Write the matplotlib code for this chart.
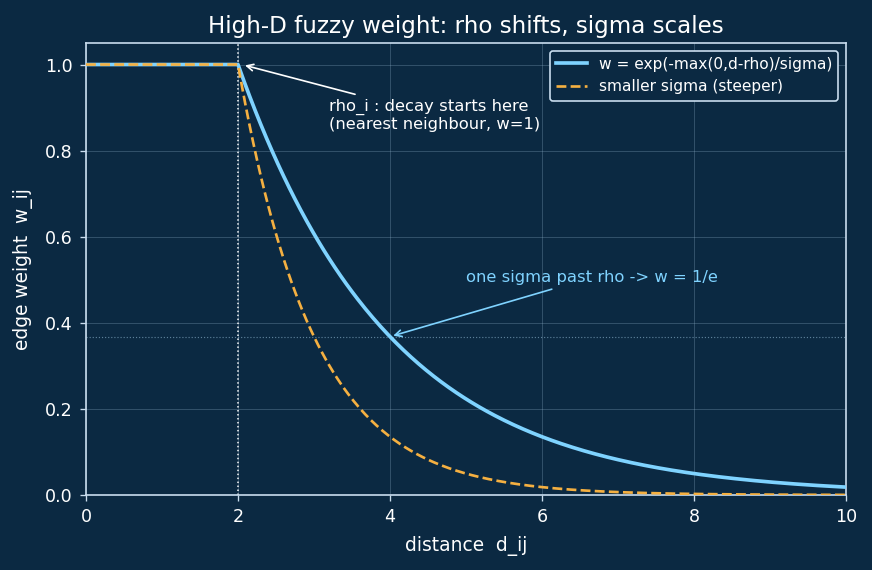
import numpy as np
import matplotlib
matplotlib.use("Agg")
import matplotlib.pyplot as plt

# parameters
rho = 2.0
sigma = 2.0
sigma_small = 1.0
d = np.linspace(0, 10, 401)
w_main = np.exp(-np.maximum(0, d - rho) / sigma)
w_small = np.exp(-np.maximum(0, d - rho) / sigma_small)

labels = ["w = exp(-max(0,d-rho)/sigma)", "smaller sigma (steeper)"]
xticks = [0, 2, 4, 6, 8, 10]
yticks = [0.0, 0.2, 0.4, 0.6, 0.8, 1.0]

bg = "#0b2942"
fg = "#c9ddee"

DPI = 120
fig = plt.figure(figsize=(872 / DPI, 570 / DPI), dpi=DPI, facecolor=bg)
ax = fig.add_axes([86/872, 1 - 495/570, 760/872, 452/570])
ax.set_facecolor(bg)

ax.plot(d, w_main, color="#7fd3ff", lw=2.2, label=labels[0], zorder=3)
ax.plot(d, w_small, color="#f5b041", lw=1.6, ls="--", label=labels[1], zorder=3)

ax.axvline(rho, color="white", lw=0.9, ls=":", zorder=2)
ax.axhline(np.exp(-1), color="#7fa6c0", lw=0.7, ls=":", alpha=0.7, zorder=2)

ax.set_xlim(0, 10)
ax.set_ylim(0, 1.05)
ax.set_xticks(xticks)
ax.set_yticks(yticks)
ax.grid(True, color="#8fb0c8", alpha=0.35, lw=0.5)

for s in ax.spines.values():
    s.set_color(fg)
    s.set_linewidth(1.0)
ax.tick_params(colors=fg, labelsize=10.5, pad=4.5)
for lab in ax.get_xticklabels() + ax.get_yticklabels():
    lab.set_color("white")

ax.set_xlabel("distance  d_ij", color="white", fontsize=11.2, labelpad=6)
ax.set_ylabel("edge weight  w_ij", color="white", fontsize=11.2, labelpad=7)
ax.set_title("High-D fuzzy weight: rho shifts, sigma scales", color="white", fontsize=13.8)

ax.annotate("rho_i : decay starts here\n(nearest neighbour, w=1)",
            xy=(rho + 0.05, 1.0), xytext=(3.2, 0.85),
            color="white", fontsize=9.8,
            arrowprops=dict(arrowstyle="->", color="white", lw=1.0))
ax.annotate("one sigma past rho -> w = 1/e",
            xy=(rho + sigma, np.exp(-1)), xytext=(5.0, 0.495),
            color="#7fd3ff", fontsize=9.8,
            arrowprops=dict(arrowstyle="->", color="#7fd3ff", lw=1.0))

leg = ax.legend(loc="upper right", fontsize=9.2, facecolor=bg, edgecolor=fg,
                framealpha=1, labelcolor="white", borderaxespad=0.5)

fig.savefig("out.png", dpi=DPI, facecolor=bg)
